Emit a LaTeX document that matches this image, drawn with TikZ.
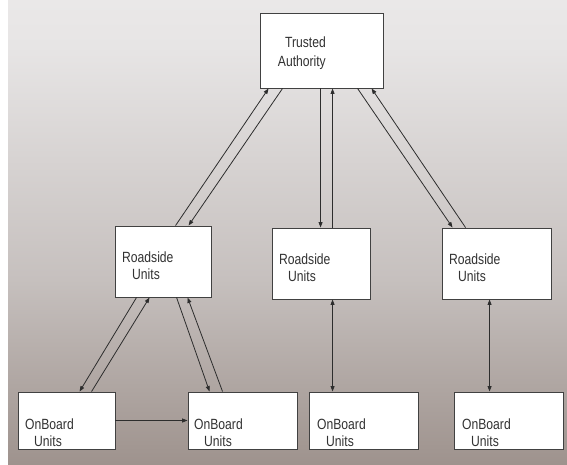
\documentclass[tikz,border=0pt]{standalone}
\usepackage{fontspec}
\setmainfont{Liberation Sans}
\newfontfamily\narrowsans[FakeStretch=0.82]{Liberation Sans}
\usetikzlibrary{arrows.meta}
\definecolor{bgA}{RGB}{112,97,90}
\definecolor{bgB}{RGB}{148,135,129}
\definecolor{bgC}{RGB}{198,192,190}
\definecolor{bgD}{RGB}{231,229,229}
\definecolor{bgE}{RGB}{249,248,248}
\definecolor{edgecol}{RGB}{45,45,45}
\definecolor{boxcol}{RGB}{65,65,65}
\definecolor{txtcol}{RGB}{50,50,50}
\pgfdeclareverticalshading{bgshade}{100bp}{color(0bp)=(bgA); color(20bp)=(bgB); color(45bp)=(bgC); color(70bp)=(bgD); color(100bp)=(bgE)}
\begin{document}
\begin{tikzpicture}[x=1pt,y=-1pt,
  box/.style={draw=boxcol, fill=white, line width=0.9pt, inner sep=0pt, rectangle},
  lbl/.style={text=txtcol, font=\narrowsans\fontsize{14.8}{17}\selectfont, inner sep=0pt},
  arr/.style={draw=edgecol, line width=0.8pt, -{Triangle[length=5.5pt,width=4pt]}},
  darr/.style={draw=edgecol, line width=0.8pt, {Triangle[length=5.5pt,width=4pt]}-{Triangle[length=5.5pt,width=4pt]}}]
\useasboundingbox (0,0) rectangle (567,465);
\shade[shading=bgshade] (8,0) rectangle (567,465);

% boxes
\node[box, minimum width=123pt, minimum height=75pt] (ta) at (321.5,50.5) {};
\node[box, minimum width=96pt, minimum height=71pt] (rs1) at (163,261.5) {};
\node[box, minimum width=98pt, minimum height=71pt] (rs2) at (321,263.5) {};
\node[box, minimum width=109pt, minimum height=71pt] (rs3) at (496.5,263.5) {};
\node[box, minimum width=97pt, minimum height=57pt] (ob1) at (66.5,420.5) {};
\node[box, minimum width=109pt, minimum height=57pt] (ob2) at (242.5,420.5) {};
\node[box, minimum width=109pt, minimum height=57pt] (ob3) at (363.5,420.5) {};
\node[box, minimum width=109pt, minimum height=57pt] (ob4) at (508.5,420.5) {};

% texts
\node[lbl, align=right, anchor=east, font=\narrowsans\fontsize{14.8}{19}\selectfont] (tat) at (326,53) {Trusted\\Authority};
\node[lbl, align=left, anchor=west] (rs1t) at (122,266) {Roadside\\\hspace*{10pt}Units};
\node[lbl, align=left, anchor=west] (rs2t) at (279,268) {Roadside\\\hspace*{9pt}Units};
\node[lbl, align=left, anchor=west] (rs3t) at (449,268) {Roadside\\\hspace*{9pt}Units};
\node[lbl, align=left, anchor=west] (ob1t) at (25,433) {OnBoard\\\hspace*{9pt}Units};
\node[lbl, align=left, anchor=west] (ob2t) at (194,433) {OnBoard\\\hspace*{10pt}Units};
\node[lbl, align=left, anchor=west] (ob3t) at (317,433) {OnBoard\\\hspace*{9pt}Units};
\node[lbl, align=left, anchor=west] (ob4t) at (462,433) {OnBoard\\\hspace*{9pt}Units};

% TA <-> RS1
\draw[arr] ([xshift=61pt]rs1.north west) -- ([xshift=9pt]ta.south west);
\draw[arr] ([xshift=23pt]ta.south west) -- ([xshift=74pt]rs1.north west);
% TA <-> RS2
\draw[arr] ([xshift=61pt]ta.south west) -- ([xshift=49pt]rs2.north west);
\draw[arr] ([xshift=61pt]rs2.north west) -- ([xshift=73pt]ta.south west);
% TA <-> RS3
\draw[arr] ([xshift=98pt]ta.south west) -- ([xshift=11pt]rs3.north west);
\draw[arr] ([xshift=24pt]rs3.north west) -- ([xshift=112pt]ta.south west);
% RS1 <-> OB1
\draw[arr] ([xshift=22pt]rs1.south west) -- ([xshift=62pt]ob1.north west);
\draw[arr] ([xshift=74pt]ob1.north west) -- ([xshift=35pt]rs1.south west);
% RS1 <-> OB2
\draw[arr] ([xshift=62pt]rs1.south west) -- ([xshift=22pt]ob2.north west);
\draw[arr] ([xshift=35pt]ob2.north west) -- ([xshift=73pt]rs1.south west);
% OB1 -> OB2
\draw[arr] (ob1.east) -- (ob2.west);
% RS2 <-> OB3, RS3 <-> OB4
\draw[darr] ([xshift=61pt]rs2.south west) -- ([xshift=24pt]ob3.north west);
\draw[darr] ([xshift=48pt]rs3.south west) -- ([xshift=36pt]ob4.north west);
\end{tikzpicture}
\end{document}
